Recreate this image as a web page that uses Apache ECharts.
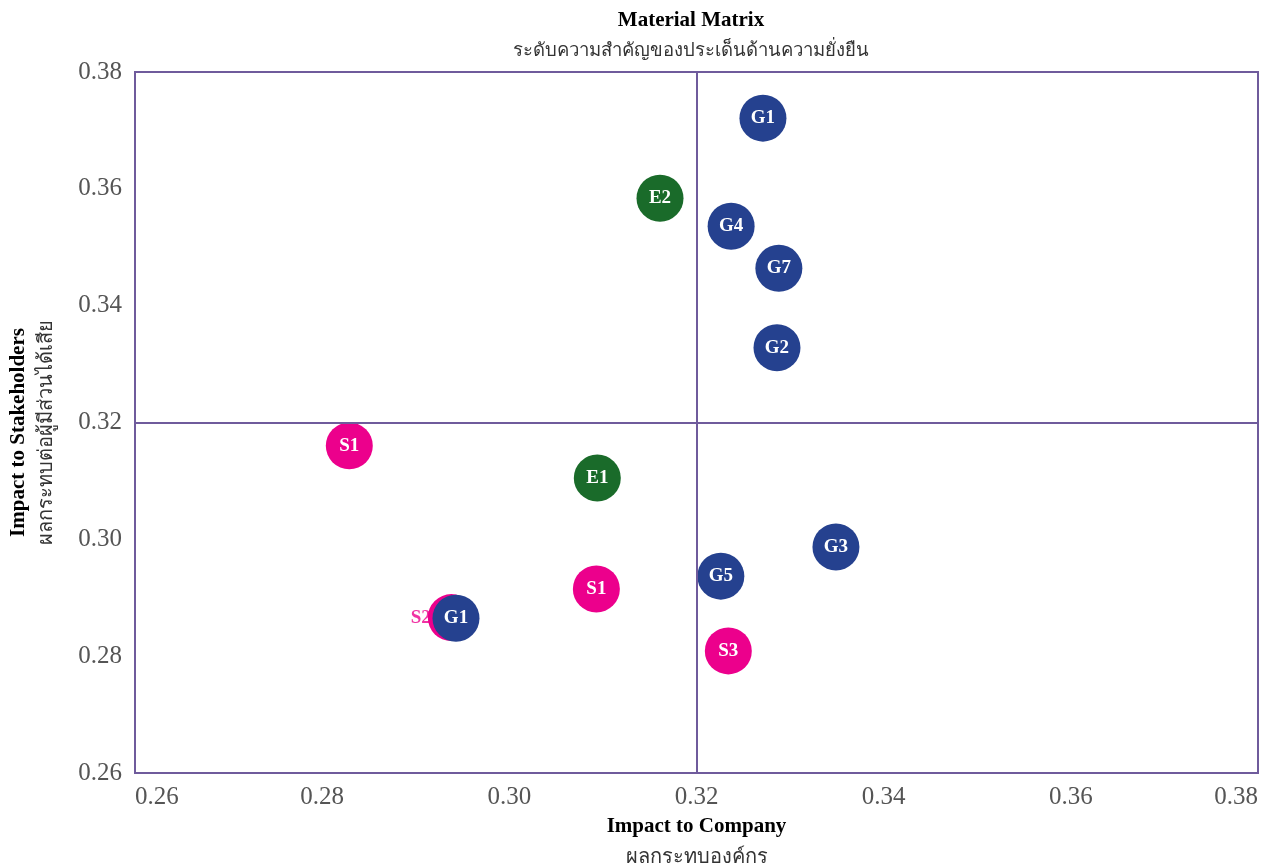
<!DOCTYPE html>
<html>
<head>
<meta charset="utf-8">
<script src="https://cdn.jsdelivr.net/npm/echarts@6/dist/echarts.min.js"></script>
<style>
  html, body { margin: 0; padding: 0; background: #ffffff; }
  #chart { width: 1271px; height: 863px; }
</style>
</head>
<body>
<div id="chart"></div>
<script>
// Material issues: code, impact to company (x), impact to stakeholders (y), pillar
const codes   = ['E2', 'E1', 'S1', 'S1', 'S2', 'S3', 'G1', 'G4', 'G7', 'G2', 'G3', 'G5', 'G1'];
const pillars = ['E', 'E', 'S', 'S', 'S', 'S', 'G', 'G', 'G', 'G', 'G', 'G', 'G'];
const impactCompany = [0.3161, 0.3094, 0.2829, 0.3093, 0.2938, 0.3234, 0.3271, 0.3237, 0.3288, 0.3286, 0.3349, 0.3226, 0.2943];
const impactStakeholders = [0.3584, 0.3105, 0.3160, 0.2915, 0.2866, 0.2809, 0.3721, 0.3536, 0.3464, 0.3328, 0.2987, 0.2937, 0.2865];

const xTicks = [0.26, 0.28, 0.30, 0.32, 0.34, 0.36, 0.38];
const yTicks = [0.26, 0.28, 0.30, 0.32, 0.34, 0.36, 0.38];
const threshold = 0.32;

const titleText = 'Material Matrix';
const subtitleText = 'ระดับความสำคัญของประเด็นด้านความยั่งยืน';

const pillarColors = { E: '#1a6b2a', S: '#ec008c', G: '#25418f' };
// codes whose label sits outside the bubble, to the left
const outsideLabel = { S2: true };

const serif = '"Liberation Serif", "Times New Roman", serif';
const frame = '#6f5b9c';
const BUBBLE = 47;

function seriesFor(p) {
  const data = [];
  codes.forEach((c, i) => {
    if (pillars[i] !== p) return;
    const item = { value: [impactCompany[i], impactStakeholders[i]], name: c };
    if (outsideLabel[c]) item.label = { show: false };
    data.push(item);
  });
  return {
    type: 'scatter',
    symbolSize: BUBBLE,
    itemStyle: { color: pillarColors[p], opacity: 1 },
    label: {
      show: true,
      position: 'inside',
      formatter: d => d.name,
      color: '#ffffff',
      fontFamily: serif,
      fontWeight: 'bold',
      fontSize: 19
    },
    data: data,
    z: 3
  };
}

const series = ['E', 'S', 'G'].map(seriesFor);
series[0].markLine = {
  silent: true,
  symbol: 'none',
  label: { show: false },
  lineStyle: { color: frame, width: 2, type: 'solid' },
  data: [{ xAxis: threshold }, { yAxis: threshold }]
};

// labels placed beside their bubble, drawn above all bubbles
const outsideData = [];
codes.forEach((c, i) => {
  if (!outsideLabel[c]) return;
  outsideData.push({
    value: [impactCompany[i], impactStakeholders[i]],
    name: c,
    label: { color: pillarColors[pillars[i]] }
  });
});
series.push({
  type: 'scatter',
  symbolSize: BUBBLE,
  itemStyle: { color: 'transparent' },
  silent: true,
  label: {
    show: true,
    position: 'left',
    distance: -3,
    formatter: d => d.name,
    fontFamily: serif,
    fontWeight: 'bold',
    fontSize: 19
  },
  data: outsideData,
  z: 6
});

const chart = echarts.init(document.getElementById('chart'));
chart.setOption({
  animation: false,
  backgroundColor: '#ffffff',
  // heading centred over the plot frame
  graphic: [
    {
      type: 'text', x: 691, y: 21,
      style: {
        text: titleText, align: 'center', verticalAlign: 'middle',
        fontFamily: serif, fontWeight: 'bold', fontSize: 21, fill: '#000000'
      }
    },
    {
      type: 'text', x: 691, y: 51,
      style: {
        text: subtitleText, align: 'center', verticalAlign: 'middle',
        fontFamily: serif, fontSize: 18.5, fill: '#333333'
      }
    }
  ],
  grid: {
    left: 135, right: 13, top: 72, bottom: 90,
    outerBoundsMode: 'none',
    containLabel: false,
    show: true,
    borderColor: frame,
    borderWidth: 2,
    backgroundColor: 'transparent'
  },
  xAxis: {
    type: 'value',
    min: xTicks[0],
    max: xTicks[xTicks.length - 1],
    interval: 0.02,
    axisLine: { show: false },
    axisTick: { show: false },
    splitLine: { show: false },
    axisLabel: {
      margin: 12,
      fontFamily: serif,
      fontSize: 25,
      color: '#555555',
      alignMinLabel: 'left',
      alignMaxLabel: 'right',
      formatter: v => v.toFixed(2)
    },
    name: '{a|Impact to Company}\n{b|ผลกระทบองค์กร}',
    nameLocation: 'middle',
    nameGap: 38,
    nameTextStyle: {
      rich: {
        a: { fontFamily: serif, fontWeight: 'bold', fontSize: 21, color: '#000000', lineHeight: 31, align: 'center' },
        b: { fontFamily: serif, fontSize: 20, color: '#333333', lineHeight: 31, align: 'center' }
      }
    }
  },
  yAxis: {
    type: 'value',
    min: yTicks[0],
    max: yTicks[yTicks.length - 1],
    interval: 0.02,
    axisLine: { show: false },
    axisTick: { show: false },
    splitLine: { show: false },
    axisLabel: {
      margin: 13,
      fontFamily: serif,
      fontSize: 25,
      color: '#555555',
      formatter: v => v.toFixed(2)
    },
    name: '{a|Impact to Stakeholders}\n{b|ผลกระทบต่อผู้มีส่วนได้เสีย}',
    nameLocation: 'middle',
    nameGap: 74,
    nameRotate: 90,
    nameTextStyle: {
      padding: [0, 20, 0, 0],
      rich: {
        a: { fontFamily: serif, fontWeight: 'bold', fontSize: 21, color: '#000000', lineHeight: 28, align: 'center' },
        b: { fontFamily: serif, fontSize: 20, color: '#333333', lineHeight: 28, align: 'center' }
      }
    }
  },
  series: series
});
</script>
</body>
</html>
